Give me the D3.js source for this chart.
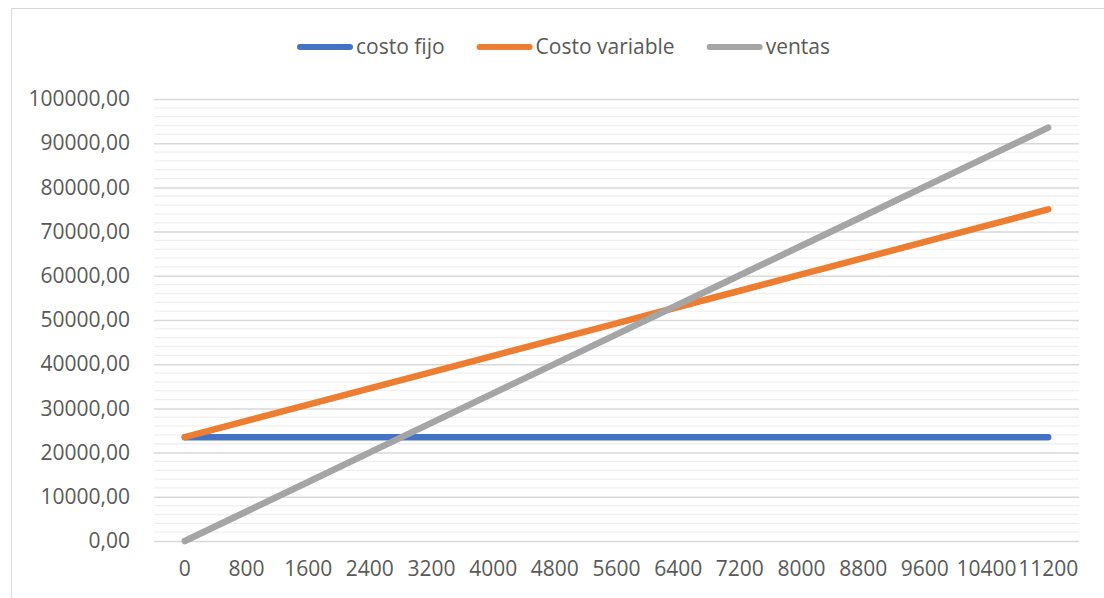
<!DOCTYPE html>
<html>
<head>
<meta charset="utf-8">
<script src="https://cdn.jsdelivr.net/npm/d3@7/dist/d3.min.js"></script>
<style>
  html, body { margin: 0; padding: 0; background: #fff; }
  svg { display: block; }
  text { font-family: "Open Sans", Lato, "Liberation Sans", sans-serif; fill: #595959; }
</style>
</head>
<body>
<svg id="chart" width="1104" height="598"></svg>
<script>
// Units produced / sold
const unidades = [0, 800, 1600, 2400, 3200, 4000, 4800, 5600, 6400, 7200, 8000, 8800, 9600, 10400, 11200];

// Cost and revenue series
const costoFijo = [23500, 23500, 23500, 23500, 23500, 23500, 23500, 23500, 23500, 23500, 23500, 23500, 23500, 23500, 23500];
const costoVariable = [23500, 27180, 30860, 34540, 38220, 41900, 45580, 49260, 52940, 56620, 60300, 63980, 67660, 71340, 75020];
const ventas = [0, 6680, 13360, 20040, 26720, 33400, 40080, 46760, 53440, 60120, 66800, 73480, 80160, 86840, 93520];

const seriesNames = ["costo fijo", "Costo variable", "ventas"];
const seriesColors = ["#4472C4", "#ED7D31", "#A5A5A5"];
const yTicks = [0, 10000, 20000, 30000, 40000, 50000, 60000, 70000, 80000, 90000, 100000];

const series = [costoFijo, costoVariable, ventas].map((values, i) => ({
  name: seriesNames[i], color: seriesColors[i], values
}));

const FONT = 21;
const svg = d3.select("#chart");

// Chart frame (runs past the right and bottom edges of the view)
const frame = { left: 11.5, top: 8.5, right: 1115.5 };
svg.append("rect")
  .attr("x", frame.left).attr("y", frame.top)
  .attr("width", 1200).attr("height", 700)
  .attr("fill", "#fff").attr("stroke", "#d9d9d9").attr("stroke-width", 1);

const plot = { left: 154, right: 1079, top: 99, bottom: 541 };

const x = d3.scaleBand().domain(unidades).range([plot.left, plot.right]);
const y = d3.scaleLinear().domain([0, 100000]).range([plot.bottom, plot.top]);

// Minor gridlines
const minor = d3.range(0, 100001, 2000).filter(v => v % 10000 !== 0);
svg.append("g").selectAll("line").data(minor).join("line")
  .attr("x1", plot.left).attr("x2", plot.right)
  .attr("y1", d => y(d)).attr("y2", d => y(d))
  .attr("stroke", "#f0f0f0").attr("stroke-width", 1.3);

// Major gridlines via axis
const yAxis = d3.axisLeft(y).tickValues(yTicks)
  .tickSize(-(plot.right - plot.left)).tickPadding(24)
  .tickFormat(d => d3.format(".2f")(d).replace(".", ","));
const gy = svg.append("g").attr("transform", `translate(${plot.left},0)`).call(yAxis);
gy.select(".domain").remove();
gy.selectAll(".tick line").attr("stroke", "#d9d9d9").attr("stroke-width", 1.5);
gy.selectAll(".tick text").attr("font-size", FONT).attr("fill", "#595959");

// Category axis
const xAxis = d3.axisBottom(x).tickSize(0).tickPadding(20);
const gx = svg.append("g").attr("transform", `translate(0,${plot.bottom})`).call(xAxis);
gx.select(".domain").remove();
gx.selectAll(".tick text").attr("font-size", FONT).attr("fill", "#595959");

// Series lines
const line = d3.line()
  .x((d, i) => x(unidades[i]) + x.bandwidth() / 2)
  .y(d => y(d));

svg.append("g").selectAll("path").data(series).join("path")
  .attr("d", d => line(d.values))
  .attr("fill", "none")
  .attr("stroke", d => d.color)
  .attr("stroke-width", 6.5)
  .attr("stroke-linecap", "round")
  .attr("stroke-linejoin", "round");

// Legend, centred in the chart frame
const swatch = 56, gapText = 3, gapItem = 32, legendY = 47;
const lg = svg.append("g");
let cursor = 0;
series.forEach(s => {
  const item = lg.append("g").attr("transform", `translate(${cursor},0)`);
  item.append("line")
    .attr("x1", 3).attr("x2", swatch - 3)
    .attr("y1", legendY).attr("y2", legendY)
    .attr("stroke", s.color).attr("stroke-width", 6)
    .attr("stroke-linecap", "round");
  const t = item.append("text")
    .attr("x", swatch + gapText).attr("y", legendY)
    .attr("dy", "0.35em")
    .attr("font-size", FONT)
    .text(s.name);
  cursor += swatch + gapText + t.node().getComputedTextLength() + gapItem;
});
const legendW = cursor - gapItem;
lg.attr("transform", `translate(${(frame.left + frame.right) / 2 - legendW / 2},0)`);
</script>
</body>
</html>
